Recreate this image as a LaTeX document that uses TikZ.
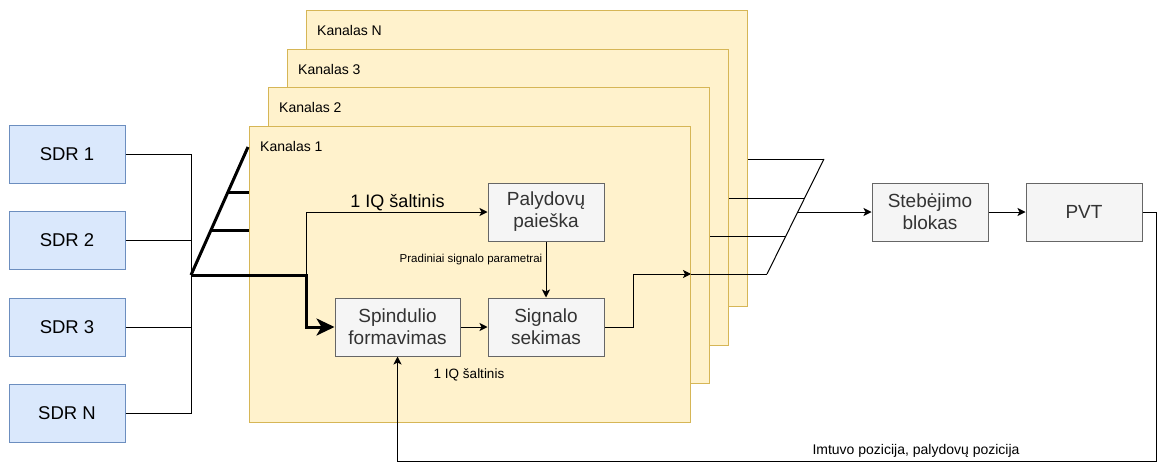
\documentclass[tikz,border=0pt]{standalone}
\usepackage{fontspec}
\setmainfont{Liberation Sans}
\usetikzlibrary{arrows.meta,calc}
\definecolor{panelfill}{HTML}{FFF2CC}
\definecolor{paneldraw}{HTML}{D6B656}
\definecolor{sdrfill}{HTML}{DAE8FC}
\definecolor{sdrdraw}{HTML}{6C8EBF}
\definecolor{boxfill}{HTML}{F5F5F5}
\definecolor{boxdraw}{HTML}{666666}
\definecolor{boxtext}{HTML}{333333}
\begin{document}
\begin{tikzpicture}[x=1pt,y=-1pt,
  panel/.style={draw=paneldraw,fill=panelfill,line width=1pt,minimum width=441pt,minimum height=296pt,anchor=north west,inner sep=0pt},
  sdrbox/.style={draw=sdrdraw,fill=sdrfill,line width=1pt,minimum width=116pt,minimum height=58pt,inner sep=0pt,font=\fontsize{18.5pt}{22pt}\selectfont},
  procbox/.style={draw=boxdraw,fill=boxfill,line width=1pt,minimum width=116pt,minimum height=58pt,inner sep=0pt,align=center,text=boxtext,font=\fontsize{19pt}{22pt}\selectfont},
  chlabel/.style={anchor=west,inner sep=0pt,font=\fontsize{14pt}{16pt}\selectfont},
  lbl/.style={inner sep=0pt},
  conn/.style={line width=1pt,draw=black},
  bus/.style={line width=3pt,draw=black},
  arr/.style={conn,-{Stealth[length=8pt,width=8pt,inset=2pt]}},
  bigarr/.style={bus,-{Stealth[length=18pt,width=17pt,inset=5pt]}}
]
\useasboundingbox (0,0) rectangle (1162,461);

% channel panels (back to front)
\node[panel] (kN) at (306,10) {};
\node[panel] (k3) at (287,49) {};
\node[panel] (k2) at (268,87) {};
\node[panel] (k1) at (249,126) {};
\node[chlabel] (lN) at ($(kN.north west)+(11,20)$) {Kanalas N};
\node[chlabel] (l3) at ($(k3.north west)+(11,20)$) {Kanalas 3};
\node[chlabel] (l2) at ($(k2.north west)+(11,20)$) {Kanalas 2};
\node[chlabel] (l1) at ($(k1.north west)+(11,20)$) {Kanalas 1};

% SDR sources
\node[sdrbox] (s1) at (67,154) {SDR 1};
\node[sdrbox] (s2) at (67,240.5) {SDR 2};
\node[sdrbox] (s3) at (67,327) {SDR 3};
\node[sdrbox] (sN) at (67,413) {SDR N};

% processing blocks
\node[procbox] (pal) at (546,212) {Palydovų\\paieška};
\node[procbox,minimum width=125pt] (sp) at (397.5,327) {Spindulio\\formavimas};
\node[procbox] (sig) at (546,327) {Signalo\\sekimas};
\node[procbox] (steb) at (930,212) {Stebėjimo\\blokas};
\node[procbox] (pvt) at (1084,212) {PVT};

% coordinates
\coordinate (j) at (191,275);
\coordinate (dtop) at (248,147);
\coordinate (d1) at (228,192);
\coordinate (d2) at (211,230);
\coordinate (fork) at (306,275);
\coordinate (t1) at (633,274);
\coordinate (m1) at (767,274);
\coordinate (m2) at (786,236);
\coordinate (m3) at (805,198);
\coordinate (mN) at (824,159);
\coordinate (mo) at (797.7,212);
\coordinate (c1) at (1156,461.2);

% SDR bus
\draw[conn] (s1.east) -| (j);
\draw[conn] (s2.east) -| (j);
\draw[conn] (s3.east) -| (j);
\draw[conn] (sN.east) -| (j);

% thick distribution to channels
\draw[bus] (j) -- (dtop);
\draw[bus] (d1) -- (d1 -| k1.west);
\draw[bus] (d2) -- (d2 -| k1.west);
\draw[bigarr] (j) -- (fork) |- (sp.west);

% inside channel 1
\draw[arr] (fork) |- (pal.west);
\draw[arr] (pal.south) -- (sig.north);
\draw[arr] (sp.east) -- (sig.west);
\draw[arr] (sig.east) -| (t1) -- (t1 -| k1.east);

% channel outputs merging
\draw[conn] (t1 -| k1.east) -- (m1);
\draw[conn] (m2 -| k2.east) -- (m2);
\draw[conn] (m3 -| k3.east) -- (m3);
\draw[conn] (mN -| kN.east) -- (mN);
\draw[conn] (m1) -- (mN);
\draw[arr] (mo) -- (steb.west);
\draw[arr] (steb.east) -- (pvt.west);

% feedback
\draw[arr] (pvt.east) -| (c1) -- (c1 -| sp.south) -- (sp.south);

% labels
\node[lbl,font=\fontsize{18pt}{20pt}\selectfont] (iq1) at (397.5,203) {1 IQ šaltinis};
\node[lbl,font=\fontsize{11.5pt}{13pt}\selectfont] (pp) at (471,260) {Pradiniai signalo parametrai};
\node[lbl,font=\fontsize{13.5pt}{15pt}\selectfont] (iq2) at (469,375) {1 IQ šaltinis};
\node[lbl,font=\fontsize{14pt}{16pt}\selectfont] (pos) at (916,451) {Imtuvo pozicija, palydovų pozicija};
\end{tikzpicture}
\end{document}
